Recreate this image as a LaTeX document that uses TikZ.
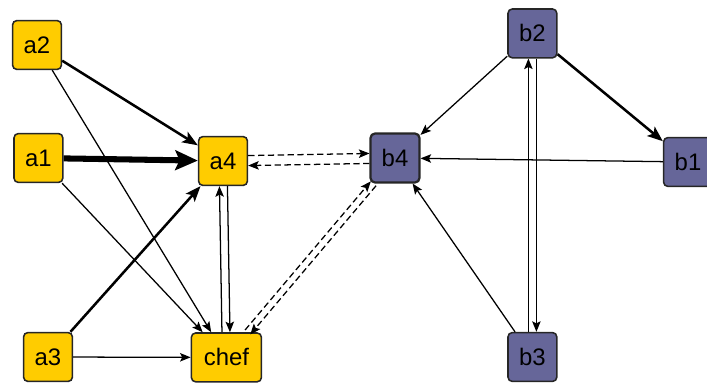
\documentclass[tikz,border=0pt]{standalone}
\usepackage{fontspec}
\setmainfont{Liberation Sans}
\usetikzlibrary{arrows.meta}
\definecolor{ayellow}{RGB}{255,204,0}
\definecolor{bpurple}{RGB}{102,102,153}

\begin{document}
\begin{tikzpicture}[every node/.style={rectangle, rounded corners=3pt, draw=black!85, line width=1.1pt, minimum width=1.22cm, minimum height=1.22cm, font=\fontsize{17}{20}\selectfont},
    anode/.style={fill=ayellow}, bnode/.style={fill=bpurple},
    thinlink/.style={line width=0.9pt, -{Stealth[length=7.5pt,width=6pt,inset=1.5pt]}},
    thicklink/.style={line width=1.8pt, -{Stealth[length=11pt,width=8.5pt,inset=2.5pt]}},
    heavylink/.style={line width=4.3pt, -{Stealth[length=16pt,width=14pt,inset=3pt]}},
    dashlink/.style={thinlink, dash pattern=on 4.5pt off 2.5pt}]
        \useasboundingbox (0,0) rectangle (17.675,9.575);
        \node[anode] (a2) at (0.925,8.45) {a2};
        \node[anode] (a1) at (0.96,5.625) {a1};
        \node[anode] (a4) at (5.575,5.55) {a4};
        \node[anode] (a3) at (1.2,0.65) {a3};
        \node[anode, minimum width=1.75cm] (chef) at (5.66,0.64) {chef};
        \node[bnode, line width=1.6pt] (b4) at (9.875,5.625) {b4};
        \node[bnode] (b2) at (13.31,8.74) {b2};
        \node[bnode] (b1) at (17.2,5.525) {b1};
        \node[bnode] (b3) at (13.31,0.65) {b3};
        \draw[heavylink] (a1) -- (a4);
        \draw[thicklink] (a2) -- (a4);
        \draw[thicklink] (a3) -- (a4);
        \draw[thinlink] (a2) -- (chef);
        \draw[thinlink] (a1) -- (chef);
        \draw[thinlink] (a3) -- (chef);
        \draw[thinlink, transform canvas={xshift=-0.1cm}] (chef) -- (a4);
        \draw[thinlink, transform canvas={xshift=0.1cm}] (a4) -- (chef);
        \draw[dashlink, transform canvas={yshift=0.125cm}] (a4) -- (b4);
        \draw[dashlink, transform canvas={yshift=-0.125cm}] (b4) -- (a4);
        \draw[dashlink, transform canvas={shift={(-0.065cm,0.055cm)}}] (chef) -- (b4);
        \draw[dashlink, transform canvas={shift={(0.065cm,-0.055cm)}}] (b4) -- (chef);
        \draw[thinlink] (b2) -- (b4);
        \draw[thinlink] (b1) -- (b4);
        \draw[thinlink] (b3) -- (b4);
        \draw[thicklink] (b2) -- (b1);
        \draw[thinlink, transform canvas={xshift=-0.1cm}] (b3) -- (b2);
        \draw[thinlink, transform canvas={xshift=0.1cm}] (b2) -- (b3);
    \end{tikzpicture}
\end{document}
